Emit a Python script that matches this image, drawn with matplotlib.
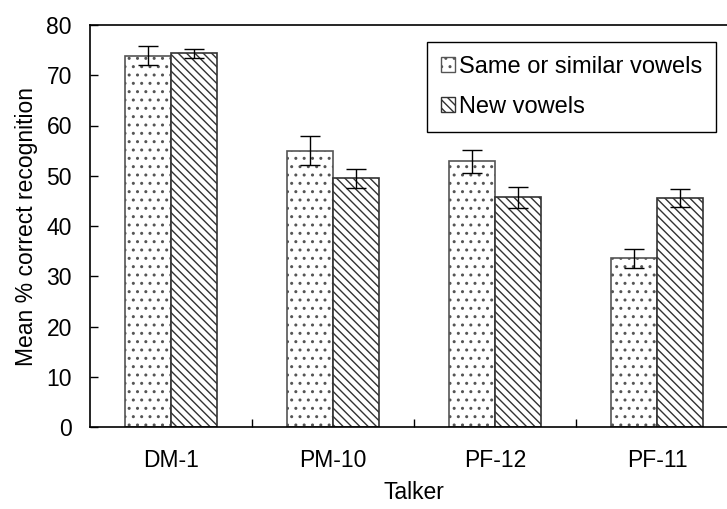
import matplotlib.pyplot as plt
import numpy as np
from matplotlib.patches import Patch

plt.rcParams['font.family'] = ['Liberation Sans', 'DejaVu Sans']
plt.rcParams['hatch.linewidth'] = 1.0

talkers = ['DM-1', 'PM-10', 'PF-12', 'PF-11']
same_vals = [73.9, 55.0, 52.9, 33.6]
same_err = [1.9, 2.9, 2.3, 1.9]
new_vals = [74.4, 49.5, 45.7, 45.5]
new_err = [0.9, 1.9, 2.1, 1.8]

fs = 16.5

fig = plt.figure(figsize=(7.27, 5.09), dpi=100)
ax = fig.add_axes([90/727, 82/509, 648/727, 402/509])

x = np.arange(len(talkers))
w = 0.284
dot_h = '..'
line_h = '\\\\\\\\'
ax.bar(x - w/2, same_vals, w, color='white', edgecolor='#555555', hatch=dot_h, linewidth=1.2,
       yerr=same_err, error_kw=dict(ecolor='black', elinewidth=1, capsize=7, capthick=1))
ax.bar(x + w/2, new_vals, w, color='white', edgecolor='#333333', hatch=line_h, linewidth=1.2,
       yerr=new_err, error_kw=dict(ecolor='black', elinewidth=1, capsize=7, capthick=1))

ax.set_xlim(-0.5, len(talkers) - 0.5)
ax.set_ylim(0, 80)
ax.set_yticks(range(0, 81, 10))
ax.set_xticks(x)
ax.set_xticklabels(talkers)
ax.set_xticks(np.arange(0.5, len(talkers) - 0.5, 1), minor=True)
ax.tick_params(axis='x', which='major', length=0, pad=16, labelsize=fs)
ax.tick_params(axis='x', which='minor', direction='in', length=6, width=1)
ax.tick_params(axis='y', direction='in', length=6, width=1, pad=13, labelsize=fs)
for s in ax.spines.values():
    s.set_linewidth(1.2)
    s.set_color('black')

ax.set_ylabel('Mean % correct recognition', fontsize=fs, labelpad=6)
ax.set_xlabel('Talker', fontsize=fs, labelpad=6)

handles = [Patch(facecolor='white', edgecolor='#555555', hatch=dot_h, label='Same or similar vowels'),
           Patch(facecolor='white', edgecolor='#333333', hatch=line_h, label='New vowels')]
leg = fig.legend(handles=handles, loc='upper right', bbox_to_anchor=(716/727, 1 - 42/509),
                 fontsize=17, fancybox=False, edgecolor='black', framealpha=1,
                 handlelength=0.6, handleheight=0.6, handletextpad=0.15, labelspacing=0.75,
                 borderpad=0.6, borderaxespad=0)
leg.get_frame().set_linewidth(1.0)

fig.savefig('out.png', dpi=100)
